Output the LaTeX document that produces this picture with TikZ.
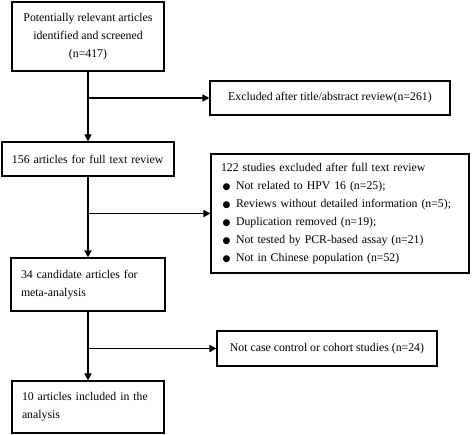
\documentclass[tikz,border=0pt]{standalone}
\usepackage{fontspec}
\setmainfont{Liberation Serif}
\newfontfamily\djv{DejaVu Sans}
\usetikzlibrary{arrows.meta}
\newcommand\bul{\makebox[15pt][l]{\hspace{1.5pt}{\djv\fontsize{9}{9}\selectfont ●}}}
\begin{document}
\begin{tikzpicture}[x=1pt,y=-1pt,
  font=\fontsize{11.8}{18}\selectfont,
  box/.style={draw, line width=1.1pt, inner xsep=10pt, inner ysep=0pt, anchor=center},
  arr/.style={line width=1.5pt, -{Triangle[length=7pt,width=7pt]}}]
\useasboundingbox (0,0) rectangle (472,435);

\node[box, minimum width=152pt, minimum height=69pt, align=center] (b1) at (88,36.5)
  {Potentially relevant articles\\identified and screened\\(n=417)};
\node[box, minimum width=240pt, minimum height=34pt, align=center] (b2) at (330,98)
  {Excluded after title/abstract review(n=261)};
\node[box, text width=152pt, minimum width=172pt, minimum height=34pt, align=left] (b3) at (88,159)
  {\mbox{156 articles for full text review}};
\node[box, text width=238pt, minimum width=258pt, minimum height=119pt, align=left] (b6) at (340,213.5)
  {\mbox{122 studies excluded after full text review}\\
   \mbox{\bul Not related to HPV 16 (n=25);}\\
   \mbox{\bul Reviews without detailed information (n=5);}\\
   \mbox{\bul Duplication removed (n=19);}\\
   \mbox{\bul Not tested by PCR-based assay (n=21)}\\
   \mbox{\bul Not in Chinese population (n=52)}};
\node[box, text width=134pt, minimum width=154pt, minimum height=53pt, align=left] (b4) at (88,284.5)
  {\makebox[134pt][s]{34 candidate articles for}\\meta-analysis};
\node[box, text width=132pt, minimum width=152pt, minimum height=52pt, align=left] (b5) at (88,407)
  {\makebox[132pt][s]{10 articles included in the}\\analysis};
\node[box, minimum width=220pt, minimum height=35pt, align=center] (b7) at (327,348.5)
  {Not case control or cohort studies (n=24)};

\coordinate (j1) at (88,98);
\coordinate (j2) at (88,213.5);
\coordinate (j3) at (88,348.5);

\draw[arr] (b1) -- (b3);
\draw[arr] (b3) -- (b4);
\draw[arr] (b4) -- (b5);
\draw[arr] (j1) -- (b2);
\draw[arr] (j2) -- (b6);
\draw[arr] (j3) -- (b7);
\end{tikzpicture}
\end{document}
